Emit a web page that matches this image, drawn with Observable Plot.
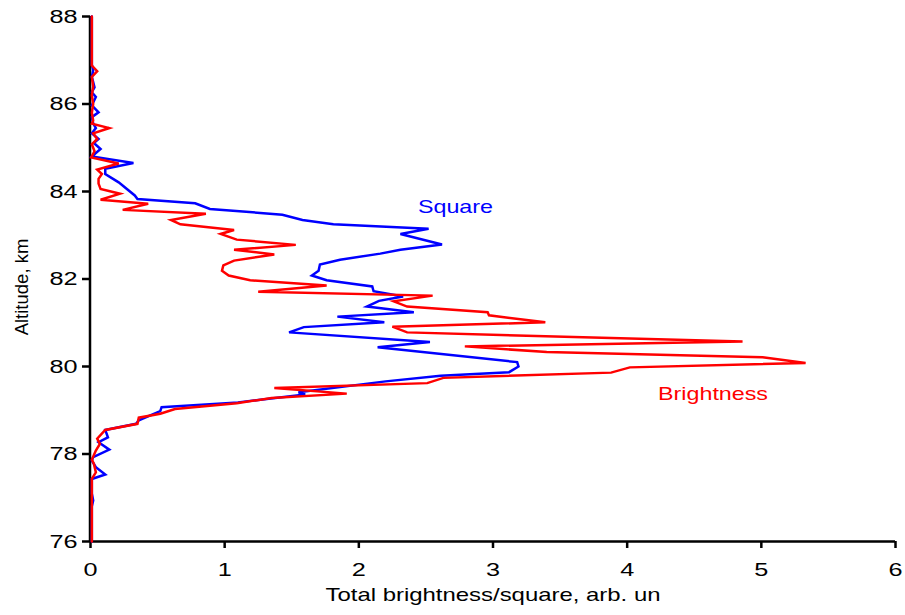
<!DOCTYPE html>
<html><head><meta charset="utf-8">
<script src="https://cdn.jsdelivr.net/npm/d3@7"></script>
<script src="https://cdn.jsdelivr.net/npm/@observablehq/plot@0.6"></script>
<style>
html,body{margin:0;padding:0;background:#fff}
#chart{width:905px;height:615px}
</style>
</head><body><div id="chart"></div>
<script>
// Brightness profile (red): altitude (km) and value (arb. un), top to bottom
const brightnessAlt = [88.0,86.88,86.75,86.62,86.4,86.2,86.0,85.8,85.62,85.55,85.45,85.33,85.2,85.08,84.92,84.78,84.64,84.50,84.40,84.29,84.18,84.06,83.95,83.81,83.72,83.58,83.49,83.35,83.25,83.12,83.03,82.90,82.78,82.67,82.56,82.42,82.31,82.19,82.08,81.97,81.85,81.71,81.62,81.49,81.37,81.24,81.17,81.01,80.91,80.78,80.57,80.46,80.33,80.21,80.08,79.98,79.86,79.74,79.62,79.51,79.38,79.28,79.16,79.03,78.92,78.83,78.69,78.55,78.35,78.23,78.08,77.87,77.78,77.58,77.43,77.2,76.0];
const brightnessVal = [0.01,0.01,0.05,0.01,0.02,0.01,0.02,0.01,0.02,0.01,0.14,0.02,0.05,0.01,0.03,0.005,0.21,0.05,0.085,0.06,0.06,0.075,0.22,0.075,0.43,0.24,0.86,0.60,0.67,1.07,0.97,1.09,1.53,1.07,1.37,1.07,0.99,0.98,1.03,1.19,1.76,1.25,2.55,2.26,2.36,2.96,2.97,3.39,2.25,2.36,4.86,2.79,3.40,5.01,5.33,4.02,3.88,2.63,2.51,1.37,1.91,1.35,1.09,0.63,0.52,0.36,0.35,0.11,0.05,0.07,0.04,0.01,0.025,0.04,0.01,0.01,0.01];

// Square profile (blue)
const squareAlt = [88.0,86.9,86.77,86.62,86.38,86.27,86.16,85.97,85.81,85.70,85.56,85.45,85.33,85.20,85.11,84.97,84.80,84.65,84.52,84.40,84.21,83.91,83.83,83.73,83.60,83.47,83.35,83.25,83.15,83.03,82.79,82.67,82.58,82.44,82.33,82.19,82.08,81.97,81.83,81.72,81.60,81.50,81.37,81.24,81.14,81.01,80.90,80.78,80.56,80.44,80.10,80.00,79.87,79.79,79.66,79.41,79.36,79.18,79.07,78.98,78.77,78.69,78.55,78.38,78.27,78.10,77.93,77.85,77.70,77.53,77.43,77.1,76.94,76.8,76.0];
const squareVal = [0.01,0.01,0.02,0.01,0.03,0.01,0.04,0.01,0.06,0.01,0.02,0.04,0.01,0.06,0.025,0.075,0.01,0.32,0.11,0.11,0.21,0.33,0.35,0.78,0.89,1.43,1.58,1.81,2.52,2.31,2.62,2.31,2.16,1.86,1.71,1.70,1.65,1.76,2.10,2.11,2.33,2.15,2.06,2.41,1.84,2.19,1.59,1.48,2.53,2.14,3.18,3.19,3.12,2.61,2.20,1.55,1.60,1.10,0.53,0.52,0.36,0.34,0.11,0.13,0.06,0.14,0.02,0.01,0.04,0.11,0.01,0.01,0.02,0.01,0.01];

const xTicks = [0,1,2,3,4,5,6];
const yTicks = [76,78,80,82,84,86,88];
const xLabel = "Total brightness/square, arb. un";
const yLabel = "Altitude, km";
const seriesNames = ["Square","Brightness"];

const brightness = brightnessAlt.map((a,i)=>({alt:a, v:brightnessVal[i]}));
const square = squareAlt.map((a,i)=>({alt:a, v:squareVal[i]}));

const BLUE = "#0000ff", RED = "#ff0000";
const FONT = "'Liberation Sans', Arial, Helvetica, sans-serif";

const chart = Plot.plot({
  width: 905,
  height: 615,
  marginLeft: 90,
  marginRight: 10,
  marginTop: 16,
  marginBottom: 74,
  style: {fontFamily: FONT, fontSize: "19px", color: "#000", background: "#fff", overflow: "visible"},
  x: {domain: [0, 6]},
  y: {domain: [76, 88]},
  marks: [
    Plot.ruleX([0], {stroke: "#000", strokeWidth: 2.5, dx: -0.5}),
    Plot.ruleY([76], {stroke: "#000", strokeWidth: 2.5}),
    Plot.axisY({ticks: yTicks, tickSize: 8, tickPadding: 5, strokeWidth: 2.5, fontSize: 19, label: null, tickFormat: d => String(d)}),
    Plot.axisX({ticks: xTicks, tickSize: 7, tickPadding: 14, strokeWidth: 2.5, fontSize: 19, label: null, tickFormat: d => String(d)}),
    Plot.line(square, {x: "v", y: "alt", stroke: BLUE, strokeWidth: 2.5, strokeLinejoin: "miter", strokeMiterlimit: 4}),
    Plot.line(brightness, {x: "v", y: "alt", stroke: RED, strokeWidth: 2.5, strokeLinejoin: "miter", strokeMiterlimit: 4}),
    Plot.text([seriesNames[0]], {x: 2.72, y: 83.63, text: d => d, fill: BLUE, fontSize: 17.5, textAnchor: "middle"}),
    Plot.text([seriesNames[1]], {x: 4.64, y: 79.36, text: d => d, fill: RED, fontSize: 17.5, textAnchor: "middle"}),
    Plot.text([xLabel], {frameAnchor: "bottom", dy: 59, text: d => d, fontSize: 18, fill: "#000", textAnchor: "middle"}),
    Plot.text([yLabel], {frameAnchor: "left", dx: -68, dy: 8, rotate: -90, text: d => d, fontSize: 18.5, fill: "#000", textAnchor: "middle", className: "ylab"})
  ]
});

// The reference text is horizontally stretched; widen each (unrotated) label about its anchor
const SX = 1.33;
chart.querySelectorAll("text").forEach(t => {
  const tr = t.getAttribute("transform") || "";
  if (/rotate/.test(tr) || t.closest(".ylab")) return;
  const m = tr.match(/^\s*translate\(([^)]*)\)(.*)$/);
  if (m) {
    t.setAttribute("transform", `translate(${m[1]}) scale(${SX},1)${m[2]}`);
  } else {
    const x = +(t.getAttribute("x") || 0), y = +(t.getAttribute("y") || 0);
    t.setAttribute("transform", `translate(${x},${y}) scale(${SX},1) translate(${-x},${-y})${tr ? " " + tr : ""}`);
  }
});

document.getElementById("chart").appendChild(chart);
</script>
</body></html>
